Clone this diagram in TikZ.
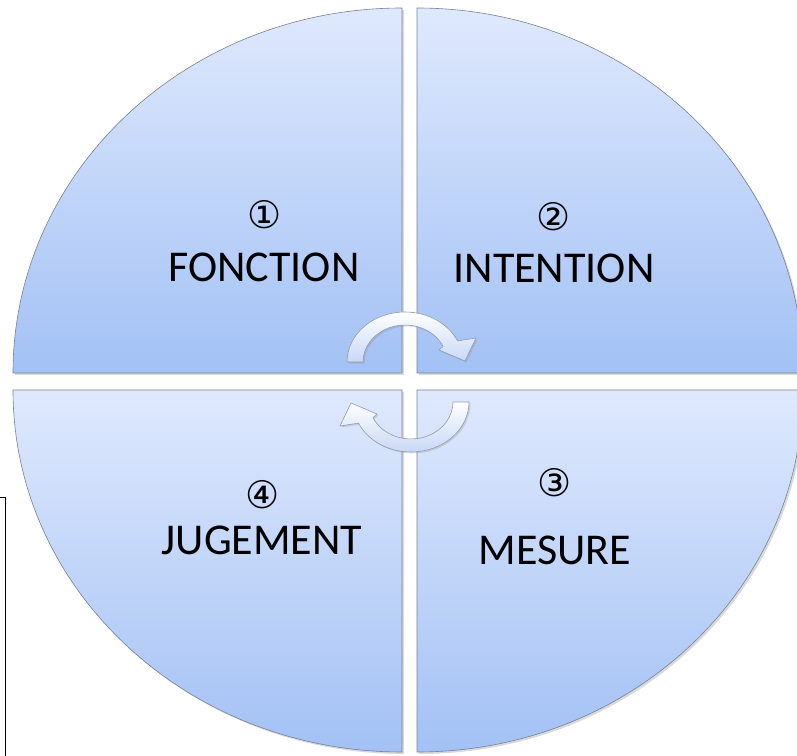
\documentclass[tikz,border=0pt]{standalone}
\usepackage{fontspec}
\setmainfont{Carlito}
\newfontfamily\circfont{DejaVu Sans}
\usetikzlibrary{shadows}
\definecolor{quadtop}{RGB}{223,233,253}
\definecolor{quadbot}{RGB}{163,193,245}
\definecolor{quadline}{RGB}{120,130,150}
\definecolor{turnbot}{RGB}{200,216,246}
\tikzset{
  turnarrow/.pic={
    \path[turnbody]
      (-58,0) arc[start angle=180, end angle=25, x radius=58pt, y radius=50pt]
      -- (71,24) -- (60,1) -- (34,12) -- (38.1,15.6)
      arc[start angle=25, end angle=180, x radius=42pt, y radius=37pt]
      -- cycle;
  }
}
\begin{document}
\begin{tikzpicture}[x=1pt, y=1pt,
    quadrant/.style={draw=quadline, line width=0.6pt, top color=quadtop, bottom color=quadbot,
      drop shadow={opacity=0.3, shadow xshift=2pt, shadow yshift=-2pt}},
    turnbody/.style={draw=quadline!80, line width=0.6pt, top color=white, bottom color=turnbot,
      drop shadow={opacity=0.25, shadow xshift=1.5pt, shadow yshift=-1.5pt}},
    label/.style={inner sep=0pt, font=\fontsize{44}{50}\selectfont},
    number/.style={inner sep=0pt, font=\circfont\fontsize{38}{40}\selectfont}]
  \useasboundingbox (0,0) rectangle (797,755);
  % the four quarters
  \path[quadrant] (402,382) -- (13,382)
    arc[start angle=180, end angle=90, x radius=389pt, y radius=365pt] -- cycle;
  \path[quadrant] (417,382) -- (417,747)
    arc[start angle=90, end angle=0, x radius=386pt, y radius=365pt] -- cycle;
  \path[quadrant] (417,365) -- (803,365)
    arc[start angle=0, end angle=-90, x radius=386pt, y radius=362pt] -- cycle;
  \path[quadrant] (402,365) -- (402,3)
    arc[start angle=270, end angle=180, x radius=389pt, y radius=362pt] -- cycle;
  % texts
  \node[number] (n1) at (265,540) {①};
  \node[label] (fonction) at (264,488) {FONCTION};
  \node[number] (n2) at (554,538) {②};
  \node[label] (intention) at (554,487) {INTENTION};
  \node[number] (n3) at (555,272) {③};
  \node[label] (mesure) at (555,205) {MESURE};
  \node[number] (n4) at (263,260) {④};
  \node[label] (jugement) at (262,215) {JUGEMENT};
  % turning arrows
  \pic at (405,393) {turnarrow};
  \pic[rotate=180] at (411,353) {turnarrow};
  % frame on the left
  \draw[line width=1pt] (-2,257) -- (5,257) -- (5,-2);
\end{tikzpicture}
\end{document}
